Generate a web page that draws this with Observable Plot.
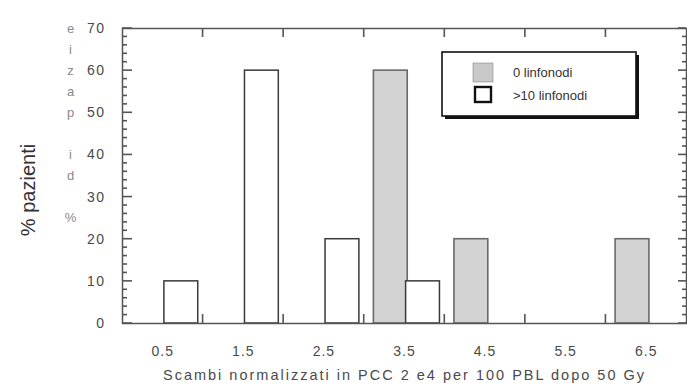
<!DOCTYPE html>
<html>
<head>
<meta charset="utf-8">
<script src="https://cdn.jsdelivr.net/npm/d3@7"></script>
<script src="https://cdn.jsdelivr.net/npm/@observablehq/plot@0.6"></script>
<style>
  html, body { margin: 0; padding: 0; background: white; }
  #chart { width: 687px; height: 385px; }
  .ls1 text { letter-spacing: 1px; }
  .ls15 text { letter-spacing: 1.5px; }
</style>
</head>
<body>
<div id="chart"></div>
<script>
// ---- data ----
const categories = [0.5, 1.5, 2.5, 3.5, 4.5, 5.5, 6.5];
const xTickLabels = ["0.5", "1.5", "2.5", "3.5", "4.5", "5.5", "6.5"];
const seriesNames = ["0 linfonodi", ">10 linfonodi"];
const zeroNodes = [0, 0, 0, 60, 20, 0, 20];
const overTenNodes = [10, 60, 20, 10, 0, 0, 0];
const yTickValues = [0, 10, 20, 30, 40, 50, 60, 70];
const yMinorTicks = [0, 2, 4, 6, 8, 10, 12, 14, 16, 18, 20, 22, 24, 26, 28, 30, 32, 34, 36, 38, 40, 42, 44, 46, 48, 50, 52, 54, 56, 58, 60, 62, 64, 66, 68, 70];
const xBoundaryTicks = [1, 2, 3, 4, 5, 6];
const yTitle = "% pazienti";
const ghostTitle = "% di pazie";
const xTitle = "Scambi normalizzati in PCC 2 e4 per 100 PBL dopo 50 Gy";

// table built from the arrays
const bars = [];
categories.forEach((c, i) => {
  if (zeroNodes[i] > 0) bars.push({c, v: zeroNodes[i], s: seriesNames[0]});
  if (overTenNodes[i] > 0) bars.push({c, v: overTenNodes[i], s: seriesNames[1]});
});
const ghostChars = ghostTitle.split("").map((ch, i) => ({ch, i}));

const X0 = 0, X1 = 7, Y0 = 0, Y1 = 70;
const ML = 122, MR = 1, MT = 28, MB = 62, W = 687, H = 385;
const KX = (X1 - X0) / (W - ML - MR);   // data units per pixel (x)
const KY = (Y1 - Y0) / (H - MT - MB);   // data units per pixel (y)
const TW = 0.8;                          // half tick thickness, px

const BAR_W = 0.42;
const off = s => s === seriesNames[0] ? -0.38 : 0.02;
const fmtX = d => xTickLabels[categories.indexOf(d)];
const AX = "#555";
const isMajor = v => yTickValues.includes(v);

const chart = Plot.plot({
  width: W, height: H,
  marginLeft: ML, marginRight: MR, marginTop: MT, marginBottom: MB,
  x: {domain: [X0, X1]},
  y: {domain: [Y0, Y1]},
  style: {fontFamily: "'Liberation Sans', Arial, sans-serif", background: "white", color: "#4a4a4a"},
  marks: [
    Plot.rectY(bars.filter(d => d.s === seriesNames[0]), {
      x1: d => d.c + off(d.s), x2: d => d.c + off(d.s) + BAR_W, y: "v",
      fill: "#d3d3d3", stroke: "#6a6a6a", strokeWidth: 1.6
    }),
    Plot.rectY(bars.filter(d => d.s === seriesNames[1]), {
      x1: d => d.c + off(d.s), x2: d => d.c + off(d.s) + BAR_W, y: "v",
      fill: "white", stroke: "#3a3a3a", strokeWidth: 1.5
    }),
    Plot.frame({stroke: AX, strokeWidth: 1.5}),
    // inward ticks on all four sides
    Plot.rect(xBoundaryTicks, {x1: d => d - TW * KX, x2: d => d + TW * KX, y1: Y0, y2: Y0 + 9 * KY, fill: AX}),
    Plot.rect(xBoundaryTicks, {x1: d => d - TW * KX, x2: d => d + TW * KX, y1: Y1, y2: Y1 - 9 * KY, fill: AX}),
    Plot.rect(yMinorTicks, {y1: d => d - TW * KY, y2: d => d + TW * KY, x1: X0, x2: d => X0 + (isMajor(d) ? 10 : 5) * KX, fill: AX}),
    Plot.rect(yMinorTicks, {y1: d => d - TW * KY, y2: d => d + TW * KY, x1: X1, x2: d => X1 - (isMajor(d) ? 8 : 4) * KX, fill: AX}),
    // tick labels
    Plot.axisX(categories, {anchor: "bottom", tickSize: 0, tickPadding: 23, tickFormat: fmtX, label: null, fontSize: 14, fill: "#4a4a4a", className: "ls1"}),
    Plot.axisY(yTickValues, {anchor: "left", tickSize: 0, tickPadding: 17, label: null, fontSize: 14, fill: "#4a4a4a", className: "ls15"}),
    // ghost stacked letters
    Plot.text(ghostChars, {y: d => 25 + 5 * d.i, text: "ch", frameAnchor: "left", textAnchor: "middle", dx: -52, fontSize: 13, fill: "#8a8a8a"}),
    // y title
    Plot.text([yTitle], {text: d => d, frameAnchor: "left", textAnchor: "middle", rotate: -90, dx: -94, dy: 14, fontSize: 20, fill: "#333"}),
    // x title
    Plot.text([xTitle], {text: d => d, frameAnchor: "bottom", textAnchor: "middle", dy: 56, fontSize: 14.5, fill: "#4a4a4a", className: "ls2"})
  ]
});
document.getElementById("chart").appendChild(chart);
const svg = d3.select(chart);
svg.selectAll(".ls2 text").style("letter-spacing", "2px");

// legend
const lg = svg.append("g").attr("font-family", "'Liberation Sans', Arial, sans-serif").attr("text-anchor", "start");
lg.append("rect").attr("x", 445).attr("y", 55).attr("width", 194).attr("height", 64).attr("fill", "#111");
lg.append("rect").attr("x", 442).attr("y", 52).attr("width", 194).attr("height", 64).attr("fill", "white").attr("stroke", "#111").attr("stroke-width", 1.6);
lg.append("rect").attr("x", 473).attr("y", 63).attr("width", 20).attr("height", 19).attr("fill", "#c8c8c8").attr("stroke", "#888").attr("stroke-width", 0.6);
lg.append("rect").attr("x", 475).attr("y", 87).attr("width", 16).attr("height", 15).attr("fill", "white").attr("stroke", "#111").attr("stroke-width", 2.4);
lg.append("text").attr("x", 513).attr("y", 77).attr("font-size", 13).attr("fill", "#333").text(seriesNames[0]);
lg.append("text").attr("x", 513).attr("y", 100).attr("font-size", 13).attr("fill", "#333").text(seriesNames[1]);
</script>
</body>
</html>
